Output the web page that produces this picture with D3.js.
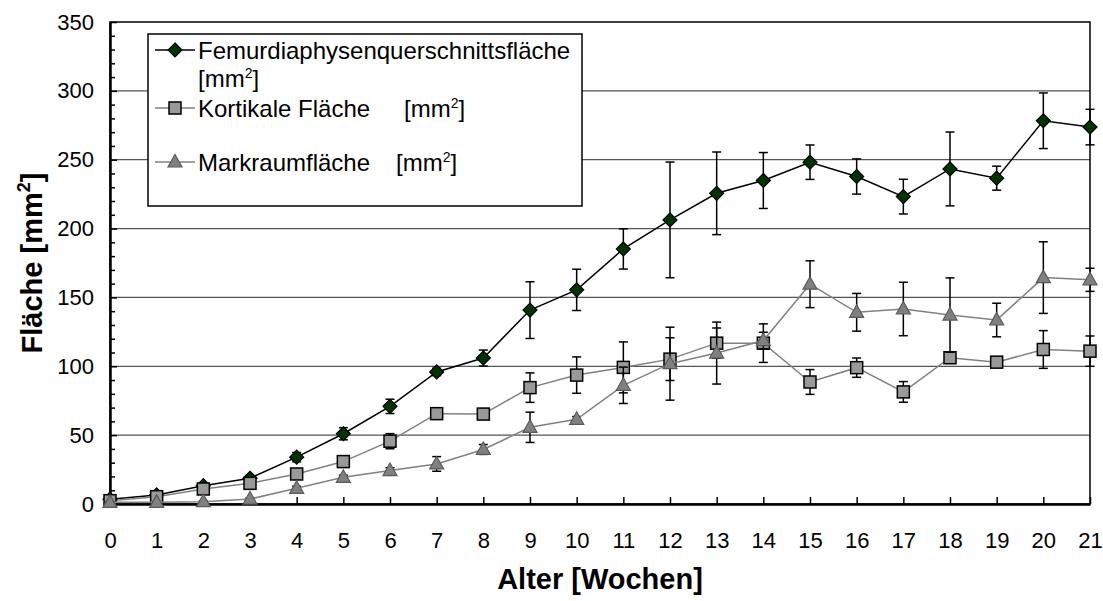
<!DOCTYPE html>
<html>
<head>
<meta charset="utf-8">
<script src="https://cdn.jsdelivr.net/npm/d3@7"></script>
<style>
    body { margin: 0; background: #fff; }
    svg { display: block; font-family: Arial, "Liberation Sans", sans-serif; }
</style>
</head>
<body>
<div id="chart"></div>
<script>
// weeks (x categories)
const weeks = [0, 1, 2, 3, 4, 5, 6, 7, 8, 9, 10, 11, 12, 13, 14, 15, 16, 17, 18, 19, 20, 21];

// Femurdiaphysenquerschnittsfläche
const femur = [3.5, 6.6, 13.3, 18.7, 34, 51, 70.9, 95.9, 106, 140.8, 155.5, 185.2, 206.3, 225.6, 234.9, 248.2, 237.8, 223.2, 243.3, 236.6, 278.3, 273.7];
const femurErr = [1, 1.5, 2, 2, 3.4, 4.4, 5.2, 2.7, 5.8, 20.6, 15, 14.6, 42, 30, 20.3, 12.5, 12.8, 12.6, 26.8, 8.7, 20.2, 12.9];

// Kortikale Fläche
const kortikal = [2.4, 5.3, 10.9, 15, 21.8, 30.8, 45.6, 65.6, 65.3, 84.5, 93.6, 99.2, 105.2, 116.8, 116.8, 88.6, 99, 81.4, 106.2, 103, 112.2, 111];
const kortikalErr = [1, 1, 1.5, 1.5, 1.5, 2, 5.5, 1.5, 2, 10.7, 13.2, 18.5, 15.5, 11, 14, 9, 7, 7.5, 4, 3, 13.7, 11];

// Markraumfläche
const markraum = [1.2, 1.2, 1.7, 3.6, 11.4, 19.4, 24.3, 29.1, 39.6, 55.7, 61.5, 86.2, 101.9, 109.6, 118.7, 159.6, 139.2, 141.6, 137.2, 133.6, 164.4, 162.8];
const markraumErr = [0.5, 0.5, 0.5, 1, 1.5, 1.5, 2, 5.3, 3.6, 11, 2, 13.2, 26.5, 22.5, 6, 17, 13.7, 19.4, 27, 12.2, 26, 8.4];

const yTicks = [0, 50, 100, 150, 200, 250, 300, 350];
const yMinor = [10, 20, 30, 40, 60, 70, 80, 90, 110, 120, 130, 140, 160, 170, 180, 190, 210, 220, 230, 240, 260, 270, 280, 290, 310, 320, 330, 340];

const width = 1103, height = 601;
const plot = { left: 110, right: 1090, top: 22, bottom: 504 };

const svg = d3.select('#chart')
    .append('svg')
    .attr('width', width)
    .attr('height', height);

const x = d3.scaleLinear().domain([0, 21]).range([plot.left, plot.right]);
const y = d3.scaleLinear().domain([0, 350]).range([plot.bottom, plot.top]);

// gridlines
svg.append('g')
    .selectAll('line')
    .data(yTicks.filter(d => d > 0 && d < 350))
    .join('line')
    .attr('x1', plot.left).attr('x2', plot.right)
    .attr('y1', d => y(d)).attr('y2', d => y(d))
    .attr('stroke', '#555')
    .attr('stroke-width', 1.3);

// plot frame
svg.append('rect')
    .attr('x', plot.left).attr('y', plot.top)
    .attr('width', plot.right - plot.left)
    .attr('height', plot.bottom - plot.top)
    .attr('fill', 'none')
    .attr('stroke', '#000')
    .attr('stroke-width', 1.5);

// x axis
const xAxis = svg.append('g')
    .attr('transform', `translate(0,${plot.bottom})`)
    .call(d3.axisBottom(x).tickValues(weeks).tickFormat(d3.format('d')).tickSize(-7).tickPadding(28).tickSizeOuter(0));
xAxis.select('.domain').attr('stroke-width', 2.5);
xAxis.selectAll('.tick line').attr('stroke-width', 1.5);
xAxis.selectAll('text').attr('font-size', 22).attr('font-family', 'Arial, "Liberation Sans", sans-serif').attr('fill', '#000');

// y axis
const yAxis = svg.append('g')
    .attr('transform', `translate(${plot.left},0)`)
    .call(d3.axisLeft(y).tickValues(yTicks).tickSize(-7).tickPadding(16).tickSizeOuter(0));
yAxis.select('.domain').attr('stroke-width', 2.5);
yAxis.selectAll('.tick line').attr('stroke-width', 1.5);
yAxis.selectAll('text').attr('font-size', 22).attr('font-family', 'Arial, "Liberation Sans", sans-serif').attr('fill', '#000');

const yMinorAxis = svg.append('g')
    .attr('transform', `translate(${plot.left},0)`)
    .call(d3.axisLeft(y).tickValues(yMinor).tickSize(-5).tickFormat(''));
yMinorAxis.select('.domain').remove();
yMinorAxis.selectAll('.tick line').attr('stroke-width', 1.5);

// series setup
const series = [
    { name: 'femur', values: femur, err: femurErr, line: '#000', symbol: 'diamond' },
    { name: 'kortikal', values: kortikal, err: kortikalErr, line: '#808080', symbol: 'square' },
    { name: 'markraum', values: markraum, err: markraumErr, line: '#808080', symbol: 'triangle' }
];

function drawMarker(g, type, cx, cy) {
    if (type === 'diamond') {
        g.append('path')
            .attr('d', `M${cx},${cy - 7}L${cx + 7},${cy}L${cx},${cy + 7}L${cx - 7},${cy}Z`)
            .attr('fill', '#003300').attr('stroke', '#000').attr('stroke-width', 1.2);
    } else if (type === 'square') {
        g.append('rect')
            .attr('x', cx - 6).attr('y', cy - 6).attr('width', 12).attr('height', 12)
            .attr('fill', '#999999').attr('stroke', '#000').attr('stroke-width', 1.5);
    } else {
        g.append('path')
            .attr('d', `M${cx},${cy - 7.5}L${cx + 7},${cy + 5}L${cx - 7},${cy + 5}Z`)
            .attr('fill', '#808080').attr('stroke', '#5a5a5a').attr('stroke-width', 1.2);
    }
}

const line = d3.line()
    .x((d, i) => x(weeks[i]))
    .y(d => y(d));

series.forEach(s => {
    const g = svg.append('g').attr('class', s.name);

    // error bars
    s.values.forEach((v, i) => {
        const cx = x(weeks[i]);
        const top = y(v + s.err[i]), bot = y(v - s.err[i]);
        g.append('line').attr('x1', cx).attr('x2', cx).attr('y1', top).attr('y2', bot)
            .attr('stroke', '#000').attr('stroke-width', 1.5);
        [top, bot].forEach(yy => {
            g.append('line').attr('x1', cx - 4.5).attr('x2', cx + 4.5).attr('y1', yy).attr('y2', yy)
                .attr('stroke', '#000').attr('stroke-width', 1.5);
        });
    });

    g.append('path')
        .datum(s.values)
        .attr('d', line)
        .attr('fill', 'none')
        .attr('stroke', s.line)
        .attr('stroke-width', 1.5);

    s.values.forEach((v, i) => drawMarker(g, s.symbol, x(weeks[i]), y(v)));
});

// legend
const legend = svg.append('g').attr('font-size', 24).attr('fill', '#000');
legend.append('rect')
    .attr('x', 148).attr('y', 34).attr('width', 434).attr('height', 172)
    .attr('fill', '#fff').attr('stroke', '#000').attr('stroke-width', 1.5);

const legendRows = [
    { s: series[0], y: 50 },
    { s: series[1], y: 108 },
    { s: series[2], y: 162 }
];
legendRows.forEach(r => {
    legend.append('line').attr('x1', 155).attr('x2', 195).attr('y1', r.y).attr('y2', r.y)
        .attr('stroke', r.s.line).attr('stroke-width', 1.5);
    drawMarker(legend, r.s.symbol, 175, r.y);
});

function unit(t) {
    t.append('tspan').text('[mm');
    t.append('tspan').attr('font-size', 14).attr('dy', -9).text('2');
    t.append('tspan').attr('dy', 9).text(']');
}

legend.append('text').attr('x', 198).attr('y', 59).text('Femurdiaphysenquerschnittsfläche');
unit(legend.append('text').attr('x', 198).attr('y', 87));
legend.append('text').attr('x', 198).attr('y', 117).text('Kortikale Fläche');
unit(legend.append('text').attr('x', 404).attr('y', 117));
legend.append('text').attr('x', 198).attr('y', 171).text('Markraumfläche');
unit(legend.append('text').attr('x', 396).attr('y', 171));

// axis titles
const yTitle = svg.append('text')
    .attr('transform', 'translate(42,263) rotate(-90)')
    .attr('text-anchor', 'middle')
    .attr('font-size', 29).attr('font-weight', 'bold');
yTitle.append('tspan').text('Fläche [mm');
yTitle.append('tspan').attr('font-size', 18).attr('dy', -12).text('2');
yTitle.append('tspan').attr('dy', 12).text(']');

svg.append('text')
    .attr('x', (plot.left + plot.right) / 2).attr('y', 589)
    .attr('text-anchor', 'middle')
    .attr('font-size', 29).attr('font-weight', 'bold')
    .text('Alter [Wochen]');
</script>
</body>
</html>
